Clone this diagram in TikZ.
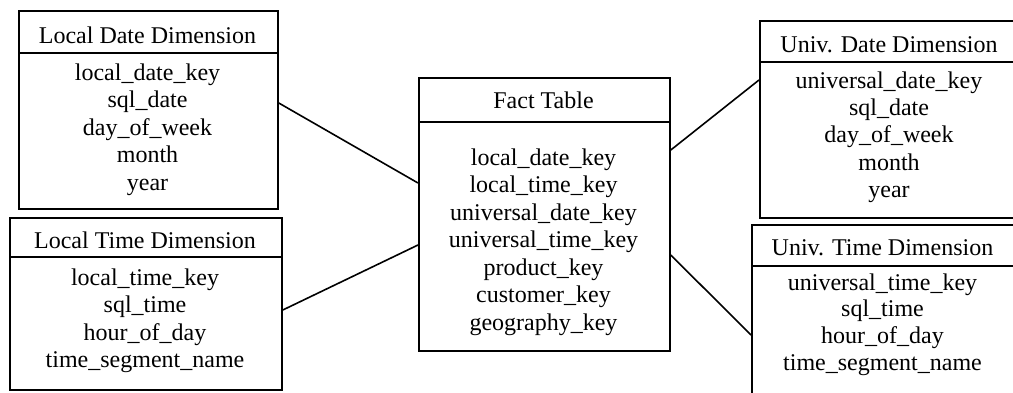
\documentclass[tikz,border=0pt]{standalone}
\usepackage{fontspec}
\setmainfont{Liberation Serif}
\begin{document}
\begin{tikzpicture}[x=1pt,y=-1pt,
  box/.style={draw, line width=1.8pt, rectangle, inner sep=0pt, anchor=north west},
  lbl/.style={font=\fontsize{24}{27.5}\selectfont, inner sep=0pt, anchor=base},
  conn/.style={line width=1.6pt}]
\useasboundingbox (0,0) rectangle (1013,392);
\clip (-1,-1) rectangle (1014,393);
% boxes
\node[box, minimum width=259pt, minimum height=198pt] (ld) at (18,10) {};
\node[box, minimum width=272pt, minimum height=172pt] (lt) at (9,217) {};
\node[box, minimum width=251pt, minimum height=273pt] (ft) at (418,77) {};
\node[box, minimum width=300pt, minimum height=197pt] (ud) at (759,20) {};
\node[box, minimum width=300pt, minimum height=200pt] (ut) at (751,224) {};
% header dividers
\coordinate (hld) at (0,53);
\coordinate (hlt) at (0,257);
\coordinate (hft) at (0,122);
\coordinate (hud) at (0,62);
\coordinate (hut) at (0,266);
\draw[conn] (ld.west |- hld) -- (ld.east |- hld);
\draw[conn] (lt.west |- hlt) -- (lt.east |- hlt);
\draw[conn] (ft.west |- hft) -- (ft.east |- hft);
\draw[conn] (ud.west |- hud) -- (ud.east |- hud);
\draw[conn] (ut.west |- hut) -- (ut.east |- hut);
% headers
\node[lbl] (ldh) at (147.5,43) {Local Date Dimension};
\node[lbl] (lth) at (145,248) {Local Time Dimension};
\node[lbl] (fth) at (543.5,108) {Fact Table};
\node[lbl] (udh) at (889,52) {Univ. Date Dimension};
\node[lbl] (uth) at (882.5,255) {Univ. Time Dimension};
% fields
\foreach \t [count=\i] in {local\_date\_key, sql\_date, day\_of\_week, month, year}
  \node[lbl] (ld\i) at (147.5,{80+27.5*(\i-1)}) {\t};
\foreach \t [count=\i] in {local\_time\_key, sql\_time, hour\_of\_day, time\_segment\_name}
  \node[lbl] (lt\i) at (145,{285+27.5*(\i-1)}) {\t};
\foreach \t [count=\i] in {local\_date\_key, local\_time\_key, universal\_date\_key, universal\_time\_key, product\_key, customer\_key, geography\_key}
  \node[lbl] (ft\i) at (543.5,{165+27.5*(\i-1)}) {\t};
\foreach \t [count=\i] in {universal\_date\_key, sql\_date, day\_of\_week, month, year}
  \node[lbl] (ud\i) at (889,{88+27.4*(\i-1)}) {\t};
\foreach \t [count=\i] in {universal\_time\_key, sql\_time, hour\_of\_day, time\_segment\_name}
  \node[lbl] (ut\i) at (882.5,{290+26.7*(\i-1)}) {\t};
% connectors
\coordinate (a1) at (0,103);
\coordinate (a2) at (0,183);
\coordinate (b1) at (0,310);
\coordinate (b2) at (0,245);
\coordinate (c1) at (0,150);
\coordinate (c2) at (0,80);
\coordinate (d1) at (0,255);
\coordinate (d2) at (0,335);
\draw[conn] (ld.east |- a1) -- (ft.west |- a2);
\draw[conn] (lt.east |- b1) -- (ft.west |- b2);
\draw[conn] (ft.east |- c1) -- (ud.west |- c2);
\draw[conn] (ft.east |- d1) -- (ut.west |- d2);
\end{tikzpicture}
\end{document}
